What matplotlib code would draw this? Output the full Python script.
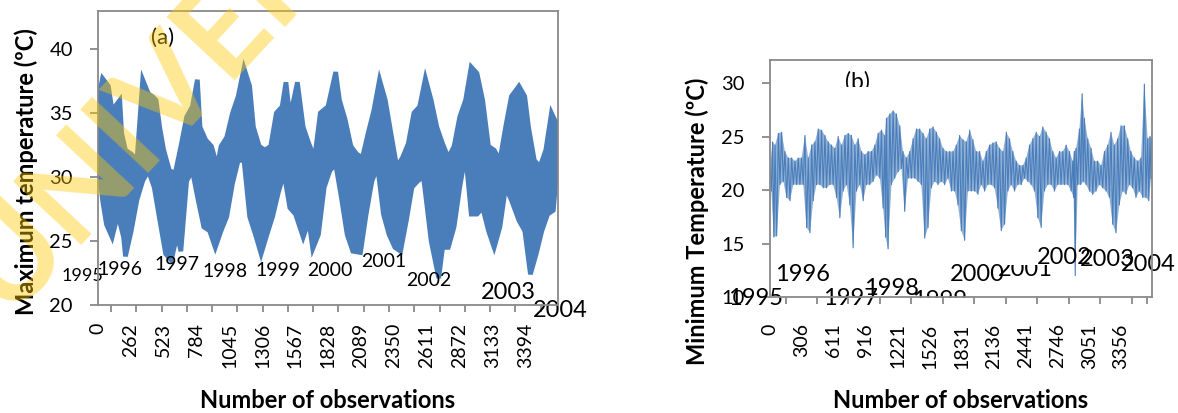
import numpy as np
import matplotlib
matplotlib.use("Agg")
import matplotlib.pyplot as plt
from matplotlib.transforms import Bbox, TransformedBbox

W, H = 1178, 413
N_OBS = 3652
BLUE = "#4a7ebb"
GREY = "#898989"

# (a) daily maximum temperature: peaks / troughs
tmax_hi_obs = [0, 36, 82, 112, 173, 188, 218, 264, 309, 355,
               400, 431, 461, 491, 522, 567, 613, 658, 704, 749,
               789, 810, 855, 901, 946, 977, 1022, 1068, 1113, 1159,
               1204, 1234, 1280, 1325, 1371, 1416, 1462, 1492, 1523, 1553,
               1583, 1629, 1674, 1720, 1765, 1826, 1887, 1917, 1962, 2008,
               2053, 2099, 2144, 2190, 2235, 2281, 2326, 2372, 2417, 2463,
               2508, 2554, 2599, 2645, 2690, 2736, 2781, 2827, 2872, 2918,
               2963, 3009, 3054, 3100, 3145, 3191, 3236, 3282, 3342, 3388,
               3418, 3464, 3509, 3555, 3600, 3652]
tmax_hi = [36.0, 37.7, 37.1, 35.2, 36.0, 33.4, 32.1, 31.8, 31.3, 37.6,
           36.5, 36.3, 36.0, 33.8, 32.1, 30.5, 30.3, 32.4, 34.7, 35.5,
           37.6, 33.9, 32.9, 32.4, 30.8, 32.4, 33.1, 35.0, 36.3, 38.5,
           37.1, 33.9, 32.4, 32.1, 32.4, 35.0, 35.5, 37.4, 34.7, 36.0,
           37.4, 33.9, 32.6, 31.5, 35.0, 35.5, 38.2, 36.0, 34.5, 32.4,
           31.8, 31.5, 33.4, 35.2, 37.6, 36.0, 33.4, 30.8, 31.5, 32.6,
           35.0, 35.5, 37.7, 36.0, 33.9, 32.6, 31.5, 32.4, 34.7, 36.0,
           38.6, 38.1, 36.0, 32.4, 32.1, 31.3, 33.9, 36.3, 37.1, 36.3,
           33.9, 31.3, 30.8, 32.1, 35.0, 33.9]
tmax_lo_obs = [0, 36, 67, 112, 158, 203, 218, 264, 309, 355,
               400, 446, 491, 537, 582, 628, 658, 704, 749, 795,
               840, 886, 931, 977, 1022, 1068, 1113, 1159, 1204, 1250,
               1295, 1341, 1386, 1432, 1477, 1523, 1568, 1629, 1674, 1705,
               1750, 1796, 1841, 1887, 1932, 1978, 2023, 2084, 2129, 2175,
               2220, 2266, 2311, 2357, 2402, 2448, 2493, 2539, 2584, 2645,
               2705, 2736, 2781, 2827, 2872, 2918, 2963, 3009, 3054, 3100,
               3145, 3191, 3236, 3282, 3342, 3388, 3433, 3479, 3524, 3570,
               3615, 3652]
tmax_lo = [31.3, 28.2, 26.3, 25.3, 27.1, 25.3, 23.8, 25.8, 28.2, 29.7,
           30.5, 29.2, 26.6, 24.0, 23.5, 25.5, 24.2, 29.7, 30.5, 28.2,
           26.1, 25.8, 24.5, 25.8, 26.9, 29.5, 31.3, 31.3, 26.9, 25.5,
           24.0, 25.5, 26.9, 28.8, 30.3, 27.6, 27.1, 25.3, 26.6, 24.4,
           25.5, 29.2, 30.5, 31.0, 28.4, 25.5, 24.2, 24.1, 27.1, 29.7,
           30.8, 27.1, 25.5, 24.5, 24.2, 26.6, 29.2, 29.7, 30.0, 25.0,
           22.1, 24.5, 24.5, 26.1, 29.2, 31.8, 27.1, 27.1, 27.6, 25.8,
           24.5, 26.1, 29.2, 28.2, 26.6, 25.8, 22.4, 24.0, 25.8, 27.1,
           27.4, 31.6]

# (b) daily minimum temperature: highs / lows
tmin_obs = [0, 25, 48, 80, 111, 143, 175, 207, 239, 270,
            302, 334, 366, 398, 429, 461, 493, 525, 557, 588,
            620, 652, 684, 716, 748, 779, 811, 843, 875, 907,
            938, 970, 1002, 1034, 1066, 1097, 1113, 1145, 1177, 1209,
            1241, 1272, 1304, 1336, 1368, 1400, 1431, 1463, 1495, 1527,
            1559, 1591, 1622, 1654, 1686, 1718, 1750, 1781, 1813, 1845,
            1877, 1909, 1940, 1972, 2004, 2036, 2068, 2099, 2131, 2163,
            2195, 2227, 2259, 2290, 2322, 2354, 2386, 2418, 2449, 2481,
            2513, 2545, 2577, 2608, 2640, 2672, 2704, 2736, 2767, 2799,
            2831, 2863, 2895, 2910, 2926, 2958, 2984, 3006, 3038, 3070,
            3101, 3133, 3165, 3197, 3229, 3260, 3292, 3324, 3356, 3388,
            3420, 3451, 3483, 3515, 3547, 3579, 3610, 3633, 3652]
tmin_hi = [22.0, 24.5, 24.2, 25.3, 25.4, 23.6, 23.0, 23.0, 22.7, 23.0,
           23.0, 25.1, 23.0, 24.2, 24.5, 25.7, 25.6, 25.1, 24.5, 24.2,
           23.9, 25.0, 24.2, 25.1, 25.3, 25.1, 24.2, 24.8, 23.6, 23.3,
           23.6, 23.6, 24.2, 25.3, 25.6, 25.1, 26.7, 27.1, 27.4, 27.1,
           26.0, 23.6, 23.0, 23.6, 24.8, 25.7, 25.7, 25.3, 24.8, 25.7,
           25.9, 25.4, 24.8, 23.9, 23.6, 23.6, 23.6, 24.2, 25.1, 24.7,
           24.5, 25.6, 24.7, 23.6, 23.6, 22.7, 23.6, 24.2, 24.4, 24.5,
           23.9, 23.6, 25.4, 24.8, 23.6, 22.7, 22.3, 22.3, 23.0, 24.2,
           24.8, 25.4, 25.0, 25.9, 25.4, 24.8, 23.6, 23.0, 23.6, 23.6,
           24.2, 23.6, 22.7, 23.6, 23.9, 25.7, 29.0, 26.7, 24.8, 23.9,
           22.7, 22.7, 22.3, 23.6, 24.2, 25.4, 24.2, 24.8, 26.0, 26.0,
           24.8, 23.6, 23.0, 22.7, 23.0, 29.9, 24.8, 25.0, 24.8]
tmin_lo = [19.9, 15.6, 15.7, 20.5, 20.8, 19.3, 19.0, 20.5, 20.5, 20.5,
           20.5, 16.5, 16.0, 19.0, 20.5, 20.5, 20.2, 20.2, 20.5, 20.5,
           19.3, 17.4, 19.9, 20.5, 18.6, 14.6, 19.9, 20.5, 19.0, 20.5,
           20.5, 20.8, 21.4, 21.1, 18.3, 15.6, 14.5, 20.5, 21.1, 21.7,
           22.0, 18.0, 21.1, 21.1, 21.1, 20.8, 20.5, 15.5, 16.5, 20.2,
           20.8, 20.5, 20.8, 20.5, 21.1, 19.9, 19.9, 18.6, 16.2, 15.3,
           19.9, 19.9, 19.9, 19.6, 20.5, 19.9, 20.5, 20.5, 20.2, 18.3,
           16.2, 16.8, 19.9, 20.5, 19.9, 20.5, 20.5, 21.1, 20.8, 20.5,
           19.9, 17.4, 16.5, 19.9, 20.5, 20.5, 19.9, 20.5, 20.5, 20.5,
           20.5, 19.9, 19.3, 12.0, 20.5, 20.5, 20.8, 20.5, 19.9, 19.6,
           19.9, 20.5, 20.2, 19.9, 19.3, 16.8, 16.0, 18.6, 19.9, 19.6,
           20.5, 20.2, 19.3, 19.9, 19.3, 19.3, 19.0, 21.1, 21.0]

years = [str(y) for y in range(1995, 2005)]
xlabels_a = [0, 262, 523, 784, 1045, 1306, 1567, 1828, 2089, 2350, 2611, 2872, 3133, 3394]
xlabels_b = [0, 306, 611, 916, 1221, 1526, 1831, 2136, 2441, 2746, 3051, 3356]
yticks_a = [20, 25, 30, 35, 40]
yticks_b = [10, 15, 20, 25, 30]

# layout: tick-mark positions and where the year labels sit (obs, temperature)
marks_a = [103, 302, 506, 704, 907, 1106, 1308, 1506, 1709, 1906, 2108, 2311,
           2509, 2712, 2911, 3112, 3310, 3516]
marks_b = [153, 452, 750, 1048, 1350, 1655, 1953, 2255, 2555, 2855, 3155, 3458, 3607]
year_pos_a = [(-127, 22.3), (175, 22.8), (627, 23.2), (1008, 22.6), (1429, 22.7),
              (1842, 22.7), (2271, 23.4), (2628, 21.9), (3255, 21.0), (3668, 19.6)]
year_size_a = [13, 14, 14, 14, 14, 14, 14, 14, 17, 17]
year_pos_b = [(-134, 9.9), (315, 12.06), (765, 9.9), (1157, 10.75), (1625, 9.7),
              (1979, 12.06), (2438, 12.6), (2811, 13.7), (3222, 13.55), (3614, 13.0)]

plt.rcParams["font.family"] = ["Lato", "DejaVu Sans"]

fig = plt.figure(figsize=(W / 100, H / 100), dpi=100)
ax_a = fig.add_axes([98 / W, 1 - 305 / H, 460 / W, 294 / H])
ax_b = fig.add_axes([770 / W, 1 - 297 / H, 382 / W, 237 / H])


def clip_px(artist, x0, y0, x1, y1):
    """Clip an artist to a box given in image pixels (top-left origin)."""
    bb = Bbox([[x0 / W, 1 - y1 / H], [x1 / W, 1 - y0 / H]])
    artist.set_clip_box(TransformedBbox(bb, fig.transFigure))
    artist.set_clip_on(True)


def style_axes(ax, ylim, yticks, xlabels, marks, xpad):
    ax.set_xlim(0, N_OBS)
    ax.set_ylim(*ylim)
    ax.set_yticks(yticks)
    ax.set_xticks(xlabels)
    ax.set_xticklabels([str(v) for v in xlabels], rotation=90)
    ax.set_xticks(marks, minor=True)
    for s in ax.spines.values():
        s.set_color(GREY)
        s.set_linewidth(1.3)
        s.set_zorder(5)
    ax.tick_params(axis="y", length=6, width=1.3, color=GREY, pad=12, labelsize=14.5)
    ax.tick_params(axis="x", which="major", length=0, pad=xpad, labelsize=14)
    ax.tick_params(axis="x", which="minor", length=5, width=1.3, color=GREY)


# panel (a): the thick daily line reads as a band between peaks and troughs
band_x = np.r_[tmax_hi_obs, tmax_lo_obs[::-1]]
band_y = np.r_[tmax_hi, tmax_lo[::-1]]
ax_a.fill(band_x, band_y, facecolor=BLUE, edgecolor=BLUE, lw=3.4,
          joinstyle="miter")
style_axes(ax_a, (20, 42.97), yticks_a, xlabels_a, marks_a, 13)
ax_a.text(516, 40.9, "(a)", fontsize=16, ha="center", va="center")
for (xo, yv), lab, fs in zip(year_pos_a, years, year_size_a):
    ax_a.text(xo, yv, lab, fontsize=fs, ha="center", va="center")

# panel (b): thin line, dense core plus the spikes
obs_b = np.array(tmin_obs, dtype=float)
lo_x = np.r_[(obs_b[:-1] + obs_b[1:]) / 2, obs_b[-1]]
ax_b.fill(np.r_[obs_b, lo_x[::-1]], np.r_[tmin_hi, tmin_lo[::-1]],
          facecolor=BLUE, alpha=0.6, lw=0)
xb = np.column_stack([obs_b, lo_x]).ravel()
yb = np.column_stack([tmin_hi, tmin_lo]).ravel()
ax_b.plot(xb, yb, color=BLUE, lw=0.8)
style_axes(ax_b, (10, 32.15), yticks_b, xlabels_b, marks_b, 19)
tb = ax_b.text(836, 30.15, "(b)", fontsize=16.5, ha="center", va="center")
clip_px(tb, 800, 0, 920, 86.7)
for (xo, yv), lab in zip(year_pos_b, years):
    t = ax_b.text(xo, yv, lab, fontsize=17, ha="center", va="center")
    if lab == "1999":
        clip_px(t, 880, 240, 1000, 297.5)
    if lab == "2001":
        clip_px(t, 990, 265, 1060, 320)

# axis titles
fig.text(26 / W, 1 - 172 / H, "Maximum temperature (ºC)", rotation=90,
         fontsize=17, fontweight="bold", ha="center", va="center")
fig.text(697 / W, 1 - 221 / H, "Minimum Temperature (ºC)", rotation=90,
         fontsize=17, fontweight="bold", ha="center", va="center")
fig.text(328 / W, 1 - 401 / H, "Number of observations",
         fontsize=17, fontweight="bold", ha="center", va="center")
fig.text(961 / W, 1 - 401 / H, "Number of observations",
         fontsize=17, fontweight="bold", ha="center", va="center")

# library watermark across the top-left corner
fig.text(-16 / W, 1 - 296 / H, "UNIVERSITY OF IBADAN LIBRARY", rotation=47,
         rotation_mode="anchor", ha="left", va="center", fontsize=92,
         fontweight="bold", color="#FFC800", alpha=0.42, zorder=10)

fig.savefig("out.png", dpi=100)
